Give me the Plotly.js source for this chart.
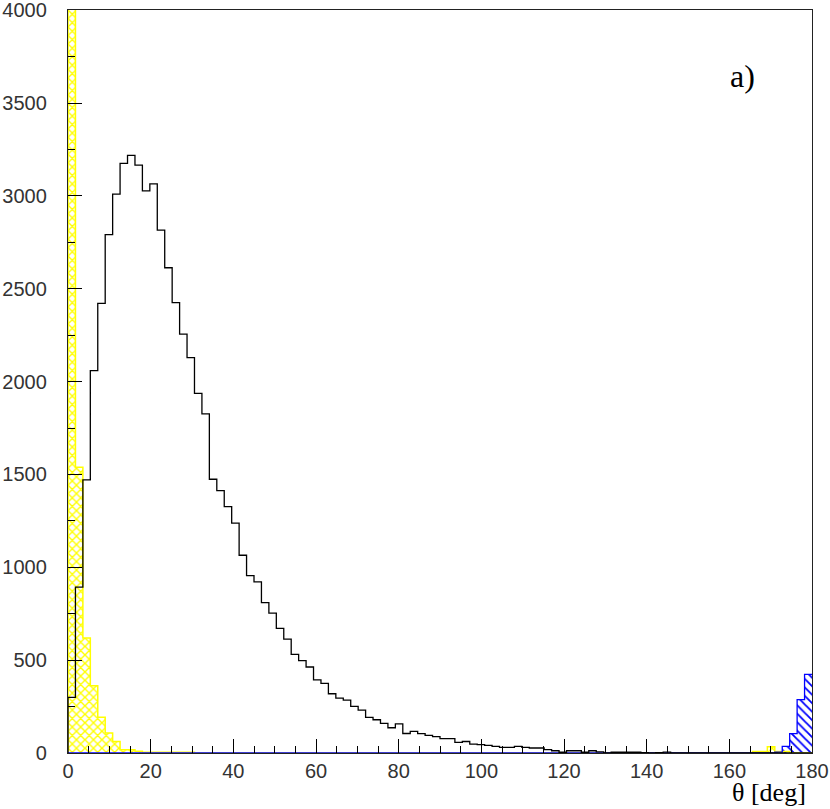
<!DOCTYPE html>
<html>
<head>
<meta charset="utf-8">
<script src="https://cdn.plot.ly/plotly-3.0.1.min.js"></script>
<style>html,body{margin:0;padding:0;background:#fff;}#chart{width:830px;height:809px;}</style>
</head>
<body>
<div id="chart"></div>
<script>
// 100 bins of 1.8 deg from 0 to 180
const binWidth = 1.8;
const binStart = 0;

const blackCounts = [
  300, 893, 1471, 2059, 2421, 2791, 3010, 3175, 3218, 3166,
  3027, 3065, 2816, 2613, 2425, 2256, 2129, 1937, 1826, 1474,
  1413, 1327, 1238, 1065, 955, 922, 810, 753, 671, 613,
  531, 497, 463, 394, 375, 319, 296, 285, 251, 231,
  192, 179, 160, 136, 157, 105, 116, 104, 95, 88,
  77, 77, 57, 62, 48, 45, 41, 36, 30, 30,
  36, 30, 27, 27, 18, 12, 4, 12, 12, 4,
  12, 6, 0, 4, 4, 4, 4, 2, 0, 2,
  5, 0, 0, 0, 0, 0, 0, 0, 0, 0,
  0, 0, 0, 0, 0, 0, 0, 0, 0, 0
];

const yellowCounts = [
  12000, 1539, 619, 362, 192, 108, 62, 18, 18, 9,
  4, 4, 4, 4, 4, 4, 4, 0, 0, 0,
  0, 0, 0, 0, 0, 0, 0, 0, 0, 0,
  0, 0, 0, 0, 0, 0, 0, 0, 0, 0,
  0, 0, 0, 0, 0, 0, 0, 0, 0, 0,
  0, 0, 0, 0, 0, 0, 0, 0, 0, 0,
  0, 0, 0, 0, 0, 0, 0, 0, 0, 0,
  0, 0, 0, 0, 0, 0, 0, 0, 0, 0,
  0, 0, 0, 0, 0, 0, 0, 0, 0, 0,
  0, 0, 8, 8, 34, 8, 8, 0, 0, 0
];

const blueCounts = [
  0, 0, 0, 0, 0, 0, 0, 0, 0, 0,
  0, 0, 0, 0, 0, 0, 0, 0, 0, 0,
  0, 0, 0, 0, 0, 0, 0, 0, 0, 0,
  0, 0, 0, 0, 0, 0, 0, 0, 0, 0,
  0, 0, 0, 0, 0, 0, 0, 0, 0, 0,
  0, 0, 0, 0, 0, 0, 0, 0, 0, 0,
  0, 0, 0, 0, 0, 0, 0, 0, 0, 0,
  0, 0, 0, 0, 0, 0, 0, 0, 0, 0,
  0, 0, 0, 0, 0, 0, 0, 0, 0, 0,
  0, 0, 0, 0, 0, 5, 36, 104, 287, 423
];

const xTickVals = [0, 20, 40, 60, 80, 100, 120, 140, 160, 180];
const yTickVals = [0, 500, 1000, 1500, 2000, 2500, 3000, 3500, 4000];
const xTitle = "θ [deg]";
const panelLabel = "a)";

const nBins = blackCounts.length;
const leftEdges = blackCounts.map((_, i) => binStart + i * binWidth);
const stepX = leftEdges.concat([binStart + nBins * binWidth]);
function stepY(arr) { return arr.concat([arr[arr.length - 1]]); }

function hatchBars(counts, color, shape, size, solidity) {
  return {
    type: 'bar', x: leftEdges, y: counts, width: binWidth, offset: 0,
    marker: { color: '#ffffff', line: { width: 0 },
      pattern: { shape: shape, fgcolor: color, bgcolor: '#ffffff', size: size, solidity: solidity, fillmode: 'replace' } },
    hoverinfo: 'skip', showlegend: false
  };
}
function outline(counts, color, w) {
  return {
    type: 'scatter', mode: 'lines', x: [binStart].concat(stepX), y: [0].concat(stepY(counts)),
    line: { shape: 'hv', color: color, width: w }, hoverinfo: 'skip', showlegend: false
  };
}

const data = [
  hatchBars(yellowCounts, '#ffff00', 'x', 6, 0.4),
  outline(yellowCounts, '#ffff00', 1.5),
  hatchBars(blueCounts, '#0000ff', '\\', 6, 0.3),
  outline(blueCounts, '#0000ff', 1.3),
  outline(blackCounts, '#000000', 1.3)
];

const tickFont = { family: 'Liberation Sans, Arial, sans-serif', size: 20, color: '#333' };

const layout = {
  width: 830, height: 809,
  margin: { l: 68, r: 18, t: 10, b: 56 },
  paper_bgcolor: '#fff', plot_bgcolor: '#fff',
  barmode: 'overlay', bargap: 0,
  showlegend: false,
  xaxis: {
    range: [0, 180], showgrid: false, zeroline: false, layer: 'above traces',
    showline: true, mirror: true, linecolor: '#222', linewidth: 1.2,
    tickmode: 'array', tickvals: xTickVals, ticks: 'inside', ticklen: 14, tickcolor: '#000', tickwidth: 1,
    minor: { dtick: 5, ticks: 'inside', ticklen: 7, tickcolor: '#000', showgrid: false },
    tickfont: tickFont, ticklabelstandoff: 0
  },
  yaxis: {
    range: [0, 4001], showgrid: false, zeroline: false, layer: 'above traces',
    showline: true, mirror: true, linecolor: '#222', linewidth: 1.2,
    tickmode: 'array', tickvals: yTickVals, ticks: 'inside', ticklen: 14, tickcolor: '#000', tickwidth: 1,
    minor: { dtick: 250, ticks: 'inside', ticklen: 7, tickcolor: '#000', showgrid: false },
    tickfont: tickFont, ticklabelstandoff: 16, ticklabeloverflow: 'allow'
  },
  annotations: [
    { text: xTitle, xref: 'paper', yref: 'paper', x: 0.995, y: -0.031, xanchor: 'right', yanchor: 'top',
      showarrow: false, font: { family: 'Liberation Serif, Times New Roman, serif', size: 26, color: '#000' } },
    { text: panelLabel, xref: 'paper', yref: 'paper', x: 0.906, y: 0.911, xanchor: 'center', yanchor: 'middle',
      showarrow: false, font: { family: 'Liberation Serif, Times New Roman, serif', size: 32, color: '#000' } }
  ]
};

Plotly.newPlot('chart', data, layout, { displayModeBar: false, staticPlot: true });
</script>
</body>
</html>
